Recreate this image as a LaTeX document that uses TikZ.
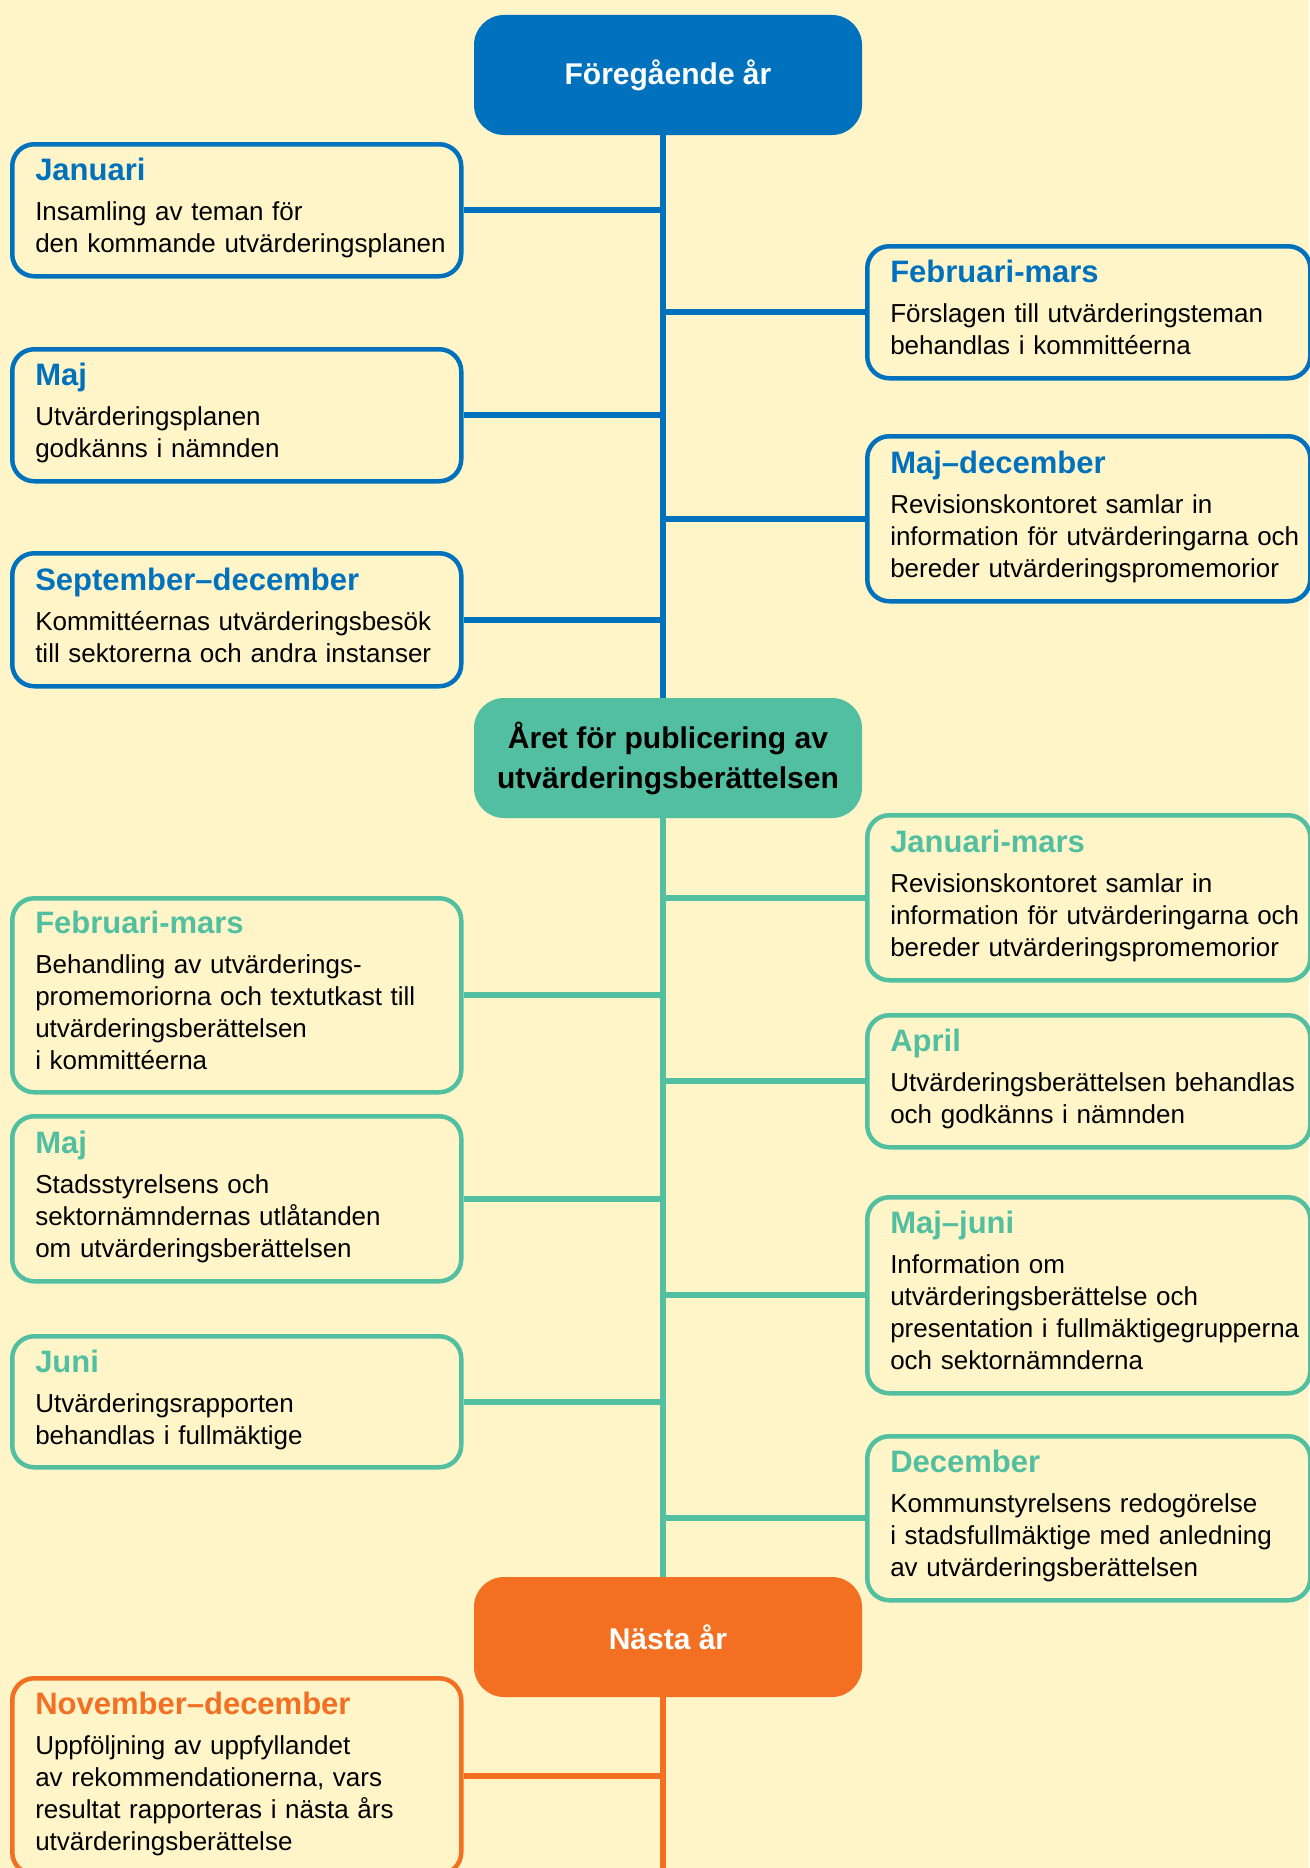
\documentclass[tikz,border=0pt]{standalone}
\usepackage[]{fontspec}
\usepackage[]{tikz}
\usepackage[]{xcolor}
\setmainfont{Liberation Sans}
\definecolor{bg}{HTML}{FFF5C9}
\definecolor{blu}{HTML}{0071BC}
\definecolor{grn}{HTML}{52BFA0}
\definecolor{org}{HTML}{F37022}
\newcommand{\evtext}[3]{\begin{tabular}{@{}l@{}}{\color{#1}\bfseries\fontsize{31}{32}\selectfont #2}\\[8pt] #3\end{tabular}}
\tikzset{yearbox/.style = {fill=#1, rounded corners=30, minimum width=388, minimum height=120, inner sep=0, align=center, font=\bfseries\fontsize{30}{40}\selectfont}}
\tikzset{evtbox/.style = {draw=#1, fill=bg, line width=4.5, rounded corners=22, anchor=north west, inner xsep=23, inner ysep=0, align=left, font=\fontsize{26}{32}\selectfont}}
\tikzset{evtL/.style = {text width=403}}
\tikzset{evtR/.style = {text width=397}}
\tikzset{link/.style = {#1, line width=6}}

\begin{document}
\begin{tikzpicture}[x=1pt, y=-1pt]
        \fill [bg] (0,0) rectangle (1309,1868);
        \useasboundingbox (0,0) rectangle (1309,1868);
        \coordinate (sp) at (663,0);
        \coordinate (end) at (663,1868);
        % the three years
        \node [yearbox=blu, text=white] (prev) at (668,75) {Föregående år};
        \node [yearbox=grn, text=black] (cur) at (668,758) {Året för publicering av\\utvärderingsberättelsen};
        \node [yearbox=org, text=white] (next) at (668,1637) {Nästa år};
        \draw [link=blu] (prev.south -| sp) -- (cur.north -| sp);
        \draw [link=grn] (cur.south -| sp) -- (next.north -| sp);
        \draw [link=org] (next.south -| sp) -- (end);
        % previous year
        \node [evtbox=blu, evtL, minimum height=132] (jan) at (10,142) {\evtext{blu}{Januari}{Insamling av teman för\\den kommande utvärderingsplanen}};
        \node [evtbox=blu, evtL, minimum height=132] (majA) at (10,347) {\evtext{blu}{Maj}{Utvärderingsplanen\\godkänns i nämnden}};
        \node [evtbox=blu, evtL, minimum height=133] (sep) at (10,551) {\evtext{blu}{September–december}{Kommittéernas utvärderingsbesök\\till sektorerna och andra instanser}};
        \node [evtbox=blu, evtR, minimum height=132] (febA) at (865,244) {\evtext{blu}{Februari-mars}{Förslagen till utvärderingsteman\\behandlas i kommittéerna}};
        \node [evtbox=blu, evtR, minimum height=165] (majdec) at (865,434) {\evtext{blu}{Maj–december}{Revisionskontoret samlar in\\information för utvärderingarna och\\bereder utvärderingspromemorior}};
        \foreach \n in {jan,majA,sep} \draw [link=blu] (\n.east) -- (\n.east -| sp);
        \foreach \n in {febA,majdec} \draw [link=blu] (\n.west) -- (\n.west -| sp);
        % publication year
        \node [evtbox=grn, evtR, minimum height=165] (janmar) at (865,813) {\evtext{grn}{Januari-mars}{Revisionskontoret samlar in\\information för utvärderingarna och\\bereder utvärderingspromemorior}};
        \node [evtbox=grn, evtR, minimum height=132] (apr) at (865,1013) {\evtext{grn}{April}{Utvärderingsberättelsen behandlas\\och godkänns i nämnden}};
        \node [evtbox=grn, evtR, minimum height=196] (majjun) at (865,1195) {\evtext{grn}{Maj–juni}{Information om\\utvärderingsberättelse och\\presentation i fullmäktigegrupperna\\och sektornämnderna}};
        \node [evtbox=grn, evtR, minimum height=164] (dec) at (865,1434) {\evtext{grn}{December}{Kommunstyrelsens redogörelse\\i stadsfullmäktige med anledning\\av utvärderingsberättelsen}};
        \node [evtbox=grn, evtL, minimum height=194] (febB) at (10,896) {\evtext{grn}{Februari-mars}{Behandling av utvärderings-\\promemoriorna och textutkast till\\utvärderingsberättelsen\\i kommittéerna}};
        \node [evtbox=grn, evtL, minimum height=165] (majB) at (10,1114) {\evtext{grn}{Maj}{Stadsstyrelsens och\\sektornämndernas utlåtanden\\om utvärderingsberättelsen}};
        \node [evtbox=grn, evtL, minimum height=131] (jun) at (10,1334) {\evtext{grn}{Juni}{Utvärderingsrapporten\\behandlas i fullmäktige}};
        \foreach \n in {febB,majB,jun} \draw [link=grn] (\n.east) -- (\n.east -| sp);
        \foreach \n in {janmar,apr,majjun,dec} \draw [link=grn] (\n.west) -- (\n.west -| sp);
        % next year
        \node [evtbox=org, evtL, minimum height=196] (nov) at (10,1676) {\evtext{org}{November–december}{Uppföljning av uppfyllandet\\av rekommendationerna, vars\\resultat rapporteras i nästa års\\utvärderingsberättelse}};
        \draw [link=org] (nov.east) -- (nov.east -| sp);
\end{tikzpicture}
\end{document}
